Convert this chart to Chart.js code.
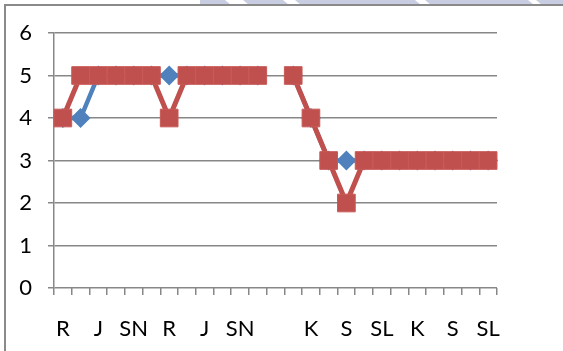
<!DOCTYPE html>
<html>
<head>
<meta charset="utf-8">
<script src="https://cdn.jsdelivr.net/npm/chart.js@4"></script>
<style>
  html, body { margin: 0; padding: 0; background: #fff; }
  #wrap { width: 563px; height: 351px; position: relative; }
</style>
</head>
<body>
<div id="wrap"><canvas id="chart" width="563" height="351"></canvas></div>
<script>
// categories (only every second one is labelled on the axis)
const categories = ["R", "", "J", "", "SN", "", "R", "", "J", "", "SN", "", "", "", "K", "", "S", "", "SL", "", "K", "", "S", "", "SL"];
const blueValues = [4, 4, 5, 5, 5, 5, 5, 5, 5, 5, 5, 5, null, 5, 4, 3, 3, 3, 3, 3, 3, 3, 3, 3, 3];
const redValues = [4, 5, 5, 5, 5, 5, 4, 5, 5, 5, 5, 5, null, 5, 4, 3, 2, 3, 3, 3, 3, 3, 3, 3, 3];
const yTicks = [0, 1, 2, 3, 4, 5, 6];

const gridColor = "#878787";
const fontFamily = "Lato, 'Open Sans', sans-serif";

// frame and faint header strip around the chart
const framePlugin = {
  id: "frame",
  beforeDraw(chart) {
    const ctx = chart.ctx;
    ctx.save();
    ctx.fillStyle = "#c9cde2";
    ctx.fillRect(200, 0, 363, 5);
    ctx.fillStyle = "#fff";
    [[225, 18], [283, 12], [415, 10], [528, 8]].forEach(([x, w]) => {
      ctx.beginPath();
      ctx.moveTo(x, 0);
      ctx.lineTo(x + w, 0);
      ctx.lineTo(x + w + 6, 5);
      ctx.lineTo(x + 6, 5);
      ctx.closePath();
      ctx.fill();
    });
    ctx.strokeStyle = "#8a8a8a";
    ctx.lineWidth = 2;
    ctx.beginPath();
    ctx.moveTo(5, 360);
    ctx.lineTo(5, 5);
    ctx.lineTo(570, 5);
    ctx.stroke();
    ctx.restore();
  },
};

new Chart(document.getElementById("chart"), {
  type: "line",
  data: {
    labels: categories,
    datasets: [
      {
        label: "Series 2",
        data: redValues,
        borderColor: "#C0504D",
        backgroundColor: "#C0504D",
        borderWidth: 5,
        pointStyle: "rect",
        pointRadius: 12.5,
        pointBorderWidth: 1,
        pointBorderColor: "#c85a57",
        pointBackgroundColor: "#C0504D",
        spanGaps: false,
        tension: 0,
        order: 0,
      },
      {
        label: "Series 1",
        data: blueValues,
        borderColor: "#4F81BD",
        backgroundColor: "#4F81BD",
        borderWidth: 4.5,
        pointStyle: "rectRot",
        pointRadius: 10,
        pointBorderWidth: 0,
        pointBackgroundColor: "#4F81BD",
        spanGaps: false,
        tension: 0,
        order: 1,
      },
    ],
  },
  options: {
    responsive: false,
    animation: false,
    layout: { padding: { top: 33, right: 66, bottom: 0, left: 0 } },
    plugins: {
      legend: { display: false },
      tooltip: { enabled: false },
    },
    scales: {
      x: {
        offset: true,
        grid: {
          offset: true,
          drawOnChartArea: false,
          drawTicks: true,
          tickLength: 7,
          color: gridColor,
          lineWidth: 1.5,
        },
        border: { display: false },
        ticks: {
          autoSkip: false,
          maxRotation: 0,
          padding: 21,
          color: "#000",
          font: { family: fontFamily, size: 22 },
        },
        afterFit(scale) {
          scale.height = 63;
        },
      },
      y: {
        min: 0,
        max: 6,
        afterBuildTicks(scale) {
          scale.ticks = yTicks.map((v) => ({ value: v }));
        },
        grid: {
          color: gridColor,
          lineWidth: 1.5,
          drawTicks: true,
          tickLength: 6,
        },
        border: { display: true, color: gridColor, width: 1.5 },
        ticks: {
          padding: 16,
          color: "#000",
          font: { family: fontFamily, size: 22 },
        },
        afterFit(scale) {
          scale.width = 54;
        },
      },
    },
  },
  plugins: [framePlugin],
});
</script>
</body>
</html>
